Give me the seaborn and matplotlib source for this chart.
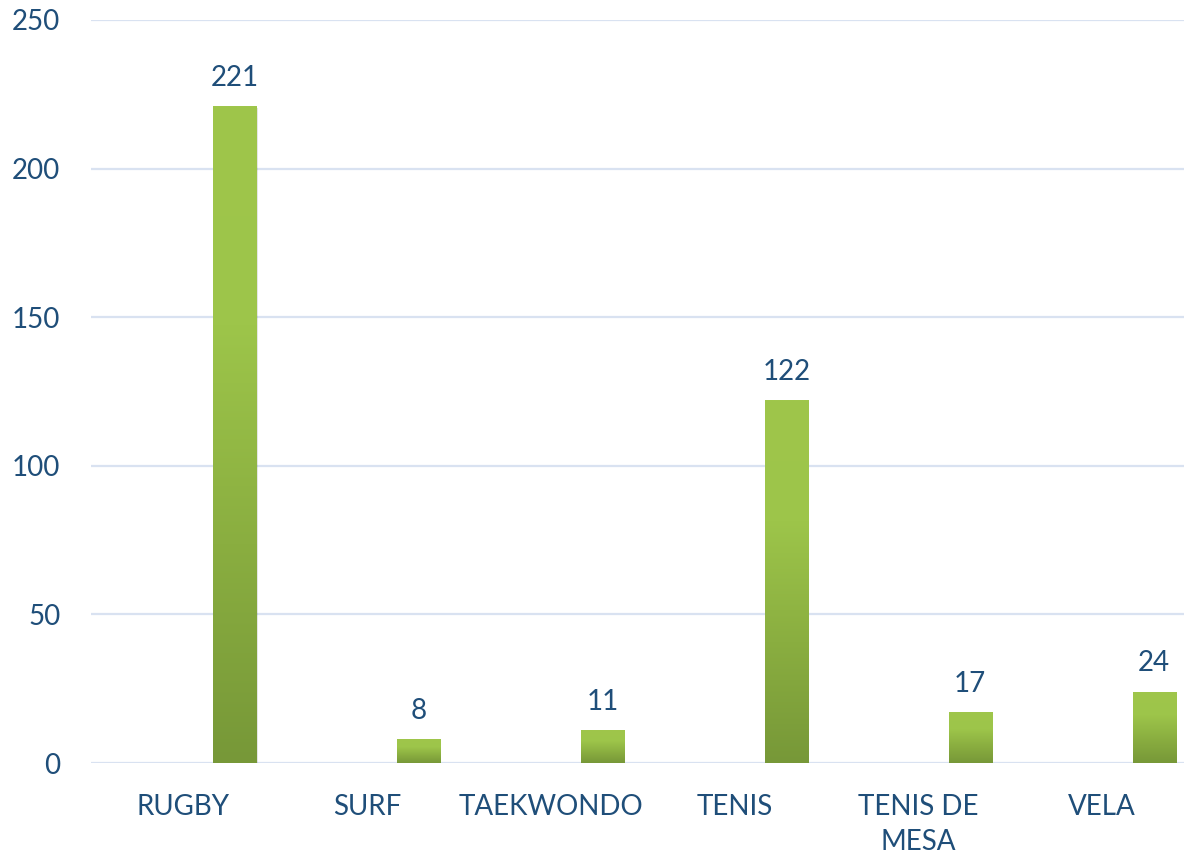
import numpy as np
import pandas as pd
import matplotlib
matplotlib.use("Agg")
import matplotlib.pyplot as plt
from matplotlib.colors import LinearSegmentedColormap
import seaborn as sns

categories = ["RUGBY", "SURF", "TAEKWONDO", "TENIS", "TENIS DE\nMESA", "VELA"]
values = [221, 8, 11, 122, 17, 24]
empty_series = [0, 0, 0, 0, 0, 0]
yticks = [0, 50, 100, 150, 200, 250]

df = pd.DataFrame({
    "cat": categories * 2,
    "val": empty_series + values,
    "serie": ["a"] * len(categories) + ["b"] * len(categories),
})

sns.set_theme(style="white")
plt.rcParams["font.family"] = ["Lato", "DejaVu Sans"]

text_color = "#1F4E79"
grid_color = "#D9E2F1"

fig = plt.figure(figsize=(11.84, 8.58), dpi=100)
ax = fig.add_axes([91 / 1184, 1 - 763 / 858, (1194 - 91) / 1184, (763 - 20) / 858])

sns.barplot(data=df, x="cat", y="val", hue="serie", hue_order=["a", "b"],
            order=categories, width=1.13, gap=0.586, dodge=True,
            palette=["#9DC54A", "#9DC54A"], legend=False, ax=ax, zorder=3)

ax.set_ylim(0, 250)
ax.set_xlim(-0.5, len(categories) - 0.5)
ax.set_yticks(yticks)
ax.yaxis.grid(True, color=grid_color, linewidth=1.6, zorder=0)
ax.set_axisbelow(True)
for s in ax.spines.values():
    s.set_visible(False)
ax.set_xlabel("")
ax.set_ylabel("")
ax.tick_params(axis="y", length=0, pad=22, labelsize=20, labelcolor=text_color)
ax.tick_params(axis="x", length=0, pad=22, labelsize=20, labelcolor=text_color)
for lbl in ax.get_xticklabels():
    lbl.set_linespacing(1.45)

cmap = LinearSegmentedColormap.from_list("g", ["#779838", "#8AAE40", "#9DC54A", "#9FC64B"])
grad = np.linspace(0, 1, 256).reshape(-1, 1)
for p in list(ax.patches):
    h = p.get_height()
    if not h or np.isnan(h) or h <= 0:
        p.set_visible(False)
        continue
    x0, w = p.get_x(), p.get_width()
    p.set_facecolor("none")
    p.set_edgecolor("none")
    shadow = plt.Rectangle((x0 + w * 0.03, -0.6), w, h, facecolor="#000000",
                           alpha=0.10, edgecolor="none", zorder=2)
    ax.add_patch(shadow)
    im = ax.imshow(grad, extent=[x0, x0 + w, 0, h], origin="lower", cmap=cmap,
                   aspect="auto", zorder=3)
    im.set_clip_path(p)
    p.set_visible(True)

ax.set_xlim(-0.5, len(categories) - 0.5)
ax.set_ylim(0, 250)

for c in ax.containers[1:]:
    ax.bar_label(c, labels=[str(v) for v in values], padding=11,
                 fontsize=20, color=text_color)

fig.savefig("out.png", dpi=100)
